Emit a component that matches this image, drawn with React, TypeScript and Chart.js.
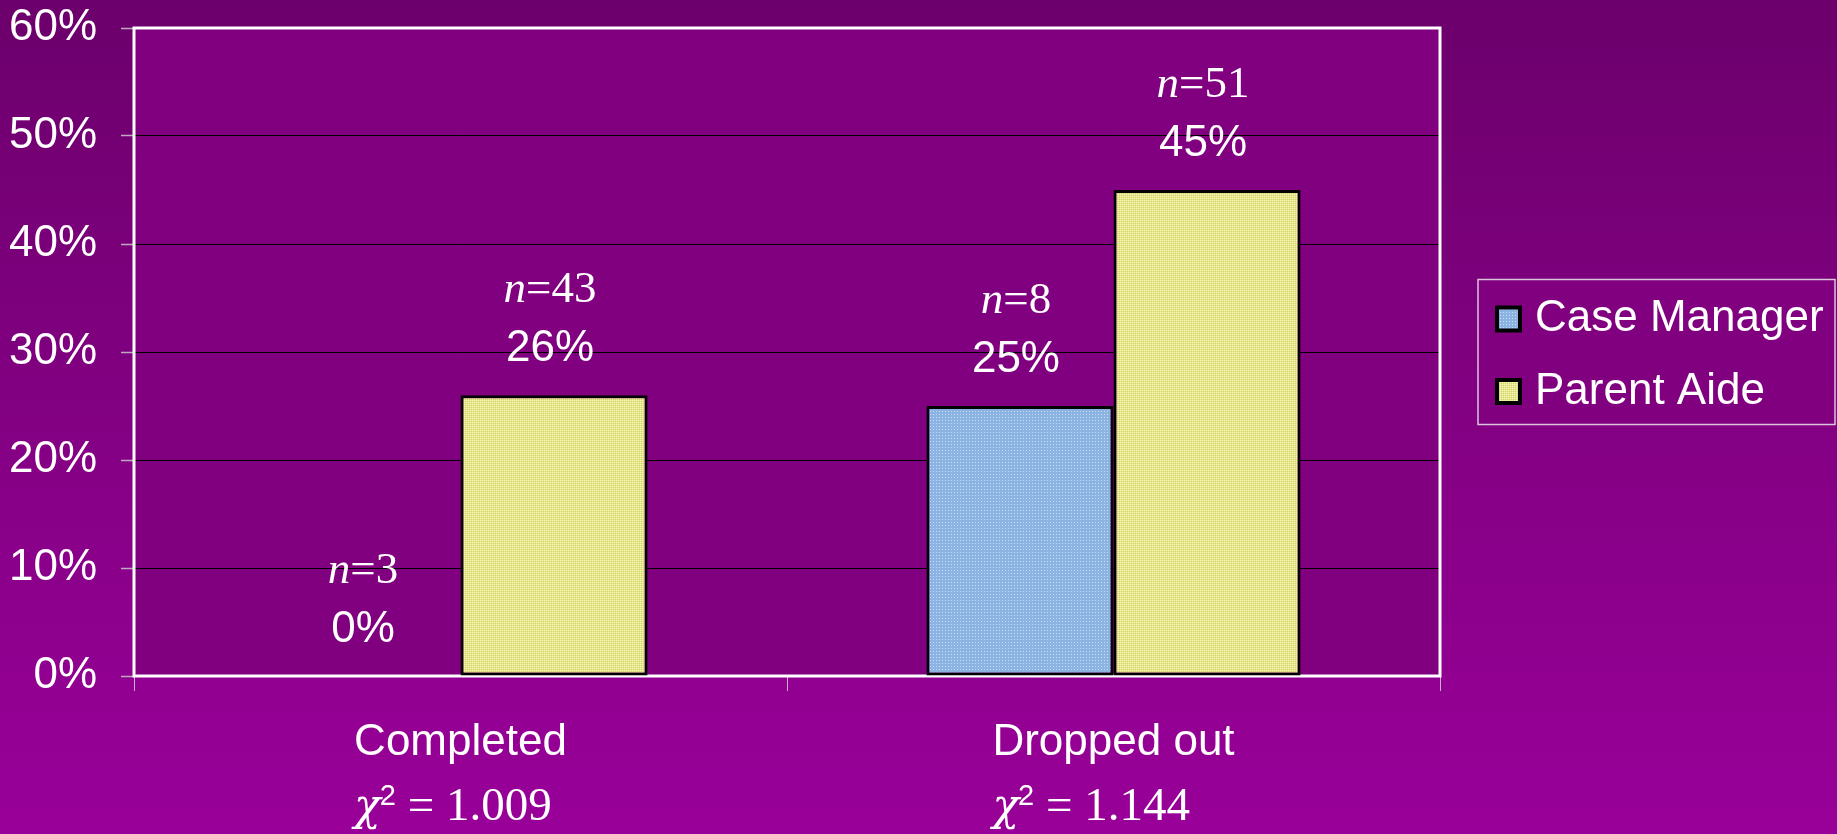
import React, { useEffect, useRef } from "react";
import { Chart, registerables } from "chart.js";

Chart.register(...registerables);

const categories = ["Completed", "Dropped out"];
const chiSquared = ["1.009", "1.144"];
const seriesNames = ["Case Manager", "Parent Aide"];
const caseManagerPct = [0, 25];
const parentAidePct = [26, 45];
const caseManagerN = [3, 8];
const parentAideN = [43, 51];
const yTickValues = [0, 10, 20, 30, 40, 50, 60];

const SANS = "'Liberation Sans', Arial, sans-serif";
const SERIF = "'Liberation Serif', 'Times New Roman', serif";
const GREEK = "'DejaVu Serif', 'Liberation Serif', serif";

function makePattern(base: string, dot: string, dark: string | null, step: number) {
  const c = document.createElement("canvas");
  c.width = step;
  c.height = step;
  const g = c.getContext("2d")!;
  g.fillStyle = base;
  g.fillRect(0, 0, step, step);
  g.fillStyle = dot;
  g.fillRect(0, 0, 1, 1);
  if (dark) {
    g.fillStyle = dark;
    g.fillRect(1, 1, 1, 1);
  }
  return g.createPattern(c, "repeat")!;
}

export default function App() {
  const ref = useRef<HTMLCanvasElement | null>(null);

  useEffect(() => {
    if (!ref.current) return;
    const blue = makePattern("#8cb4e2", "#c4dcf6", null, 3);
    const yellow = makePattern("#e6e68a", "#f6f6b8", "#d4d474", 2);
    const fills = [blue, yellow];
    const nValues = [caseManagerN, parentAideN];

    const backgroundPlugin = {
      id: "bg",
      beforeDraw(chart: any) {
        const { ctx, width, height, chartArea } = chart;
        ctx.save();
        const g = ctx.createLinearGradient(0, 0, 0, height);
        g.addColorStop(0, "#6c006c");
        g.addColorStop(1, "#990099");
        ctx.fillStyle = g;
        ctx.fillRect(0, 0, width, height);
        ctx.fillStyle = "#800080";
        ctx.fillRect(chartArea.left, chartArea.top, chartArea.right - chartArea.left, chartArea.bottom - chartArea.top);
        ctx.restore();
      },
      beforeDatasetsDraw(chart: any) {
        const { ctx, chartArea } = chart;
        ctx.save();
        ctx.strokeStyle = "#ffffff";
        ctx.lineWidth = 3;
        ctx.strokeRect(chartArea.left, chartArea.top, chartArea.right - chartArea.left, chartArea.bottom - chartArea.top);
        ctx.restore();
      },
    };

    const labelPlugin = {
      id: "barLabels",
      afterDatasetsDraw(chart: any) {
        const { ctx } = chart;
        ctx.save();
        ctx.fillStyle = "#ffffff";
        chart.data.datasets.forEach((ds: any, di: number) => {
          const meta = chart.getDatasetMeta(di);
          meta.data.forEach((el: any, i: number) => {
            const cx = el.x - 4;
            const top = el.y;
            const pctBase = top - 34;
            ctx.font = `44px ${SANS}`;
            ctx.textAlign = "center";
            ctx.textBaseline = "alphabetic";
            ctx.fillText(`${ds.data[i]}%`, cx, pctBase);
            const nBase = pctBase - 59;
            ctx.textAlign = "left";
            ctx.font = `italic 45px ${SERIF}`;
            const w1 = ctx.measureText("n").width;
            ctx.font = `45px ${SERIF}`;
            const rest = `=${nValues[di][i]}`;
            const w2 = ctx.measureText(rest).width;
            const start = cx - (w1 + w2) / 2;
            ctx.font = `italic 45px ${SERIF}`;
            ctx.fillText("n", start, nBase);
            ctx.font = `45px ${SERIF}`;
            ctx.fillText(rest, start + w1, nBase);
          });
        });
        ctx.restore();
      },
    };

    const chiPlugin = {
      id: "chi",
      afterDraw(chart: any) {
        const { ctx } = chart;
        const xs = chart.scales.x;
        ctx.save();
        ctx.fillStyle = "#ffffff";
        ctx.textAlign = "left";
        ctx.textBaseline = "alphabetic";
        categories.forEach((cat, i) => {
          const cx = xs.getPixelForValue(i);
          ctx.font = `44px ${SANS}`;
          const lw = ctx.measureText(cat).width;
          let x = cx - lw / 2;
          const base = 820;
          ctx.font = `italic 44px ${GREEK}`;
          ctx.fillText("\u03c7", x, base);
          x += ctx.measureText("\u03c7").width - 1;
          ctx.font = `29px ${SANS}`;
          ctx.fillText("2", x, base - 15);
          x += ctx.measureText("2").width;
          ctx.font = `47px ${SERIF}`;
          ctx.fillText(` = ${chiSquared[i]}`, x, base);
        });
        ctx.restore();
      },
    };

    const legendPlugin = {
      id: "customLegend",
      afterDraw(chart: any) {
        const { ctx, chartArea } = chart;
        const bx = chartArea.right + 38;
        const bw = 357;
        const bh = 145;
        const by = (chartArea.top + chartArea.bottom) / 2 - bh / 2;
        ctx.save();
        ctx.fillStyle = "#800080";
        ctx.fillRect(bx, by, bw, bh);
        ctx.strokeStyle = "#dcc4dc";
        ctx.lineWidth = 1.5;
        ctx.strokeRect(bx, by, bw, bh);
        const rows = [by + 39.5, by + 112];
        seriesNames.forEach((name, i) => {
          const cy = rows[i];
          const s = 27;
          const mx = bx + 17;
          ctx.fillStyle = "#000000";
          ctx.fillRect(mx, cy - s / 2, s, s);
          ctx.fillStyle = fills[i];
          ctx.fillRect(mx + 4, cy - s / 2 + 4, s - 8, s - 8);
          ctx.fillStyle = "#ffffff";
          ctx.font = `44px ${SANS}`;
          ctx.textAlign = "left";
          ctx.textBaseline = "alphabetic";
          ctx.fillText(name, bx + 57, cy + 12);
        });
        ctx.restore();
      },
    };

    const chart = new Chart(ref.current, {
      type: "bar",
      data: {
        labels: categories,
        datasets: [
          {
            label: seriesNames[0],
            data: caseManagerPct,
            backgroundColor: blue as any,
            borderColor: "#000000",
            borderWidth: 3,
            borderSkipped: false,
          },
          {
            label: seriesNames[1],
            data: parentAidePct,
            backgroundColor: yellow as any,
            borderColor: "#000000",
            borderWidth: 3,
            borderSkipped: false,
          },
        ],
      },
      options: {
        animation: false,
        responsive: true,
        maintainAspectRatio: false,
        layout: { padding: { top: 28, right: 397, left: 0, bottom: 0 } },
        datasets: { bar: { categoryPercentage: 0.573, barPercentage: 1 } },
        plugins: {
          legend: { display: false },
          tooltip: { enabled: false },
        },
        scales: {
          x: {
            offset: true,
            grid: {
              offset: true,
              drawOnChartArea: false,
              drawTicks: true,
              tickLength: 15,
              tickColor: "#c8b0c8",
              tickWidth: 1,
            },
            border: { display: false },
            ticks: {
              color: "#ffffff",
              font: { family: SANS, size: 44 },
              padding: 25,
              maxRotation: 0,
            },
            afterFit: (s: any) => {
              s.height = 158;
              s.paddingLeft = 0;
              s.paddingRight = 0;
            },
          },
          y: {
            min: 0,
            max: 60,
            afterBuildTicks: (s: any) => {
              s.ticks = yTickValues.map((v) => ({ value: v }));
            },
            grid: {
              color: "#000000",
              lineWidth: 1,
              drawTicks: true,
              tickLength: 13,
              tickColor: "#c0a8c0",
              tickWidth: 1.5,
            },
            border: { display: false },
            ticks: {
              color: "#ffffff",
              font: { family: SANS, size: 44 },
              padding: 24,
              callback: (v: any) => `${v}%`,
            },
            afterFit: (s: any) => {
              s.width = 134;
              s.paddingTop = 0;
              s.paddingBottom = 0;
            },
          },
        },
      },
      plugins: [backgroundPlugin, labelPlugin, chiPlugin, legendPlugin],
    });

    return () => chart.destroy();
  }, []);

  return (
    <div style={{ position: "fixed", left: 0, top: 0, width: 1837, height: 834 }}>
      <canvas ref={ref} />
    </div>
  );
}
